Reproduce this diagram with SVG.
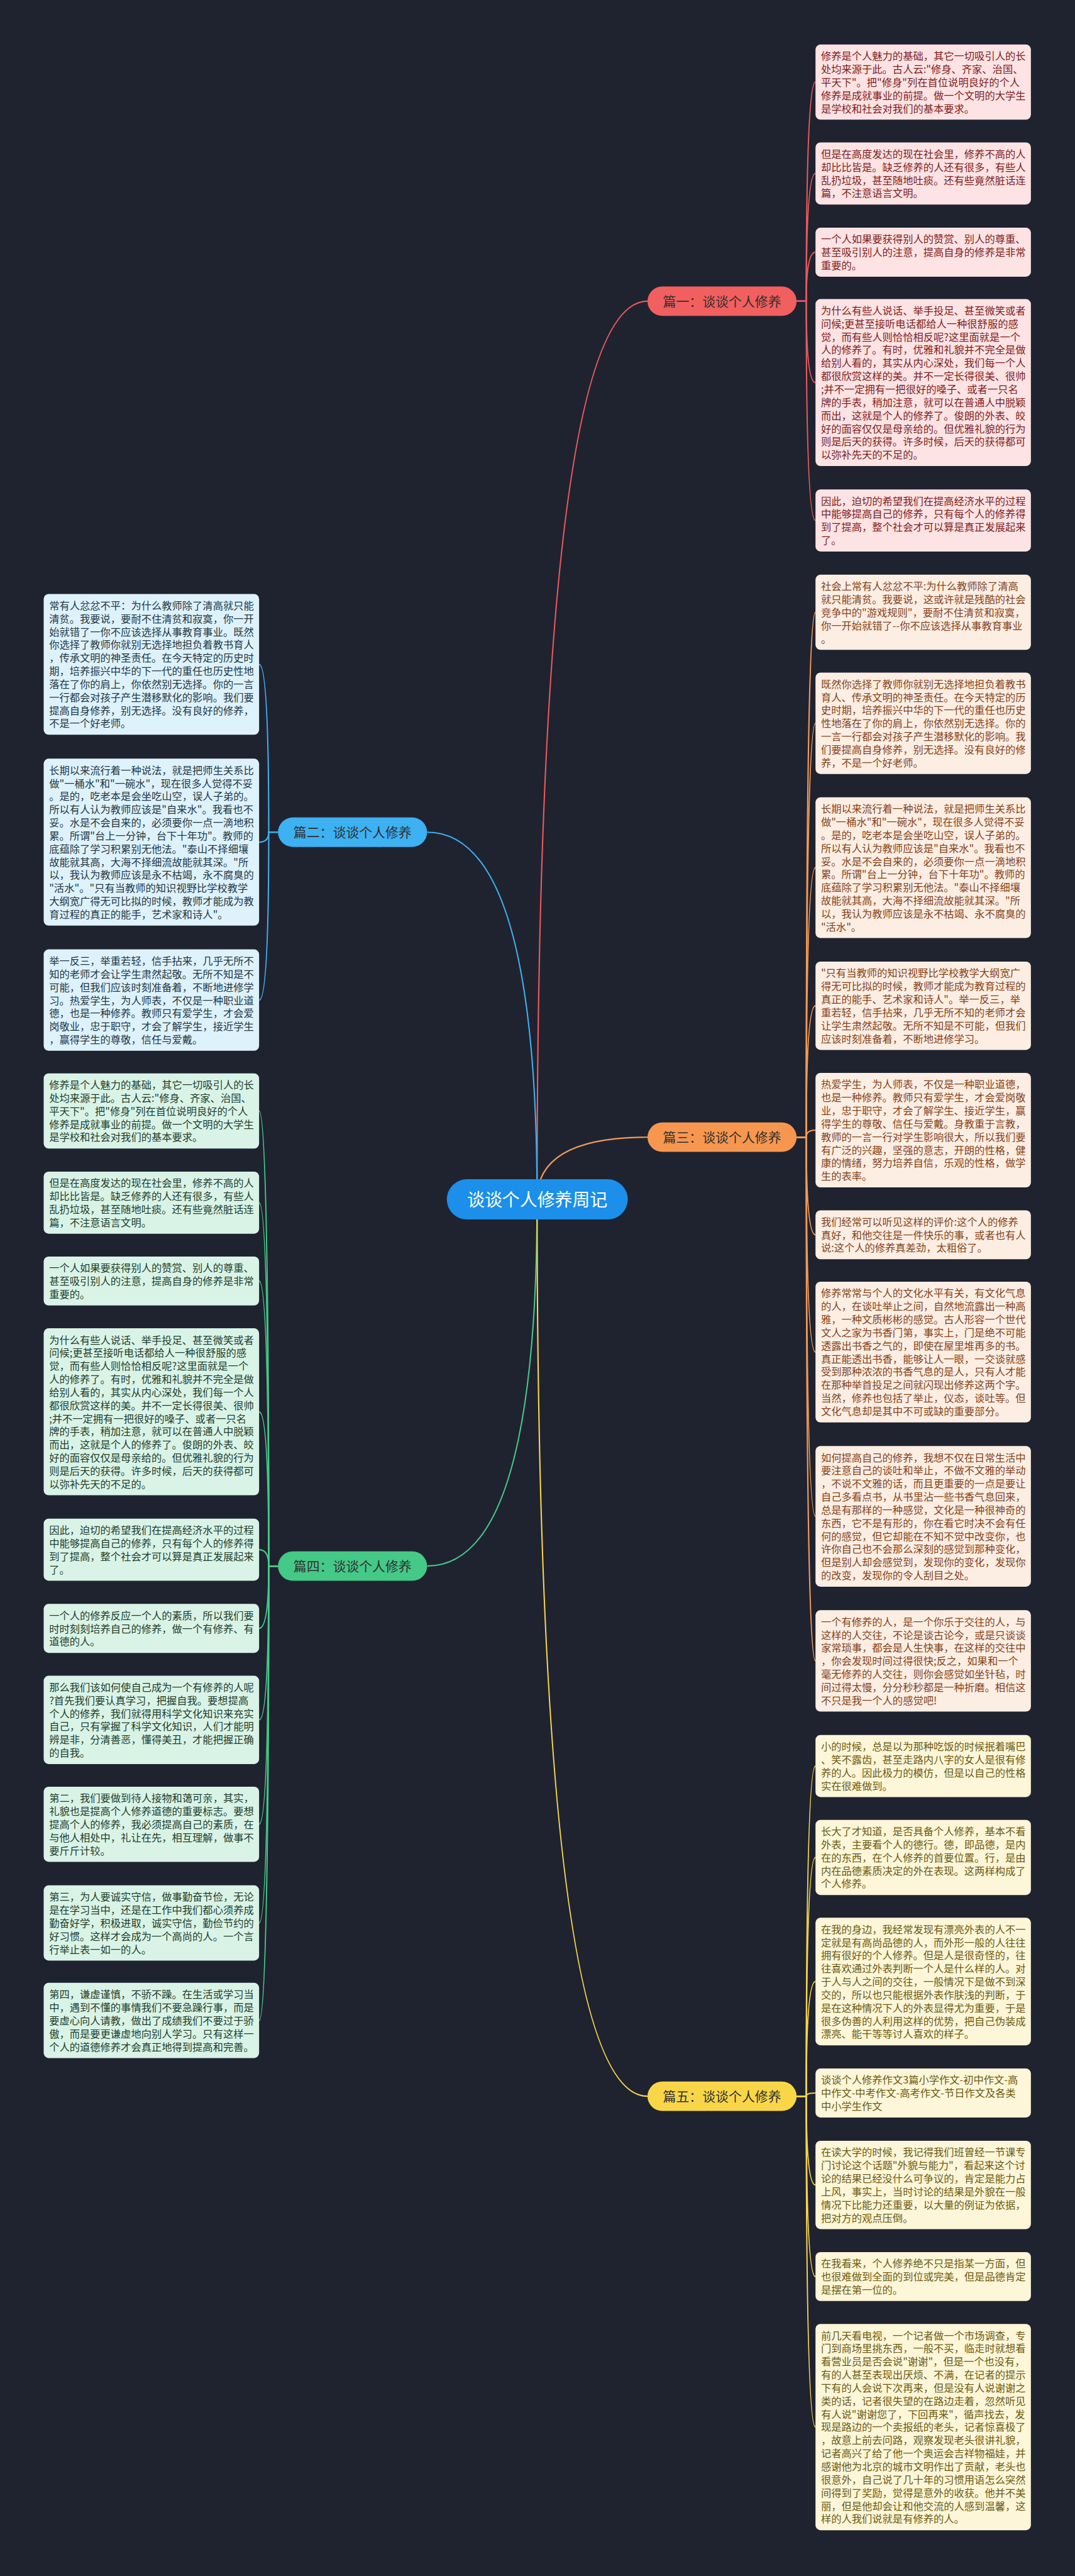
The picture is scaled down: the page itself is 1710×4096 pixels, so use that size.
<svg xmlns="http://www.w3.org/2000/svg" width="1710" height="4096" viewBox="0 0 1710 4096">
<style>
text{font-family:"Noto Sans CJK SC","Noto Sans",sans-serif}
.lf text{font-size:24.4px}
.red rect{fill:#fde3e3}.red text{fill:#7e1d1d}
.org rect{fill:#fdeee3}.org text{fill:#84421a}
.yel rect{fill:#fdf6d8}.yel text{fill:#6c5a12}
.blu rect{fill:#def2fc}.blu text{fill:#223846}
.grn rect{fill:#d9f4e7}.grn text{fill:#1f3d2d}
.br text{font-size:31.3px;fill:#2f2f2f;text-anchor:middle}
#connectors path{fill:none;stroke-width:3.2}
.cr{stroke:#ea5a5c}.cb{stroke:#3db1f1}.co{stroke:#f59a55}.cg{stroke:#44c987}.cy{stroke:#f8d64a}
</style>
<rect width="1710" height="4096" fill="#1f2330"/>
<g transform="scale(0.66797)">
<g id="connectors">
<path class="cr" d="M1279,2855 Q1279,717 1542,717"/>
<path class="cb" d="M1279,2855 Q1279,1981 1017,1981"/>
<path class="co" d="M1279,2855 Q1279,2707 1542,2707"/>
<path class="cg" d="M1279,2855 Q1279,3728 1017,3728"/>
<path class="cy" d="M1279,2855 Q1279,4990 1542,4990"/>
<path class="cr" d="M1897,717 L1920,717 Q1920,195.5 1942,195.5"/>
<path class="cr" d="M1897,717 L1920,717 Q1920,412.9 1942,412.9"/>
<path class="cr" d="M1897,717 L1920,717 Q1920,600.3 1942,600.3"/>
<path class="cr" d="M1897,717 L1920,717 Q1920,910.7 1942,910.7"/>
<path class="cr" d="M1897,717 L1920,717 Q1920,1238.9 1942,1238.9"/>
<path class="co" d="M1897,2707 L1920,2707 Q1920,1457.5 1942,1457.5"/>
<path class="co" d="M1897,2707 L1920,2707 Q1920,1721.7 1942,1721.7"/>
<path class="co" d="M1897,2707 L1920,2707 Q1920,2065.5 1942,2065.5"/>
<path class="co" d="M1897,2707 L1920,2707 Q1920,2394.1 1942,2394.1"/>
<path class="co" d="M1897,2707 L1920,2707 Q1920,2690.3 1942,2690.3"/>
<path class="co" d="M1897,2707 L1920,2707 Q1920,2939.3 1942,2939.3"/>
<path class="co" d="M1897,2707 L1920,2707 Q1920,3218.5 1942,3218.5"/>
<path class="co" d="M1897,2707 L1920,2707 Q1920,3609.5 1942,3609.5"/>
<path class="co" d="M1897,2707 L1920,2707 Q1920,3953.7 1942,3953.7"/>
<path class="cy" d="M1897,4990 L1920,4990 Q1920,4203.9 1942,4203.9"/>
<path class="cy" d="M1897,4990 L1920,4990 Q1920,4421.5 1942,4421.5"/>
<path class="cy" d="M1897,4990 L1920,4990 Q1920,4716.9 1942,4716.9"/>
<path class="cy" d="M1897,4990 L1920,4990 Q1920,4982.3 1942,4982.3"/>
<path class="cy" d="M1897,4990 L1920,4990 Q1920,5201.1 1942,5201.1"/>
<path class="cy" d="M1897,4990 L1920,4990 Q1920,5419.3 1942,5419.3"/>
<path class="cy" d="M1897,4990 L1920,4990 Q1920,5777.5 1942,5777.5"/>
<path class="cb" d="M662,1981 L640,1981 Q640,1581.5 617,1581.5"/>
<path class="cb" d="M662,1981 L640,1981 Q640,2004.7 617,2004.7"/>
<path class="cb" d="M662,1981 L640,1981 Q640,2380.7 617,2380.7"/>
<path class="cg" d="M662,3728 L640,3728 Q640,2644.5 617,2644.5"/>
<path class="cg" d="M662,3728 L640,3728 Q640,2862.9 617,2862.9"/>
<path class="cg" d="M662,3728 L640,3728 Q640,3049.3 617,3049.3"/>
<path class="cg" d="M662,3728 L640,3728 Q640,3360.7 617,3360.7"/>
<path class="cg" d="M662,3728 L640,3728 Q640,3688.9 617,3688.9"/>
<path class="cg" d="M662,3728 L640,3728 Q640,3876.3 617,3876.3"/>
<path class="cg" d="M662,3728 L640,3728 Q640,4094.1 617,4094.1"/>
<path class="cg" d="M662,3728 L640,3728 Q640,4342.5 617,4342.5"/>
<path class="cg" d="M662,3728 L640,3728 Q640,4577.5 617,4577.5"/>
<path class="cg" d="M662,3728 L640,3728 Q640,4809.5 617,4809.5"/>
</g>

<g id="center"><rect x="1064" y="2807" width="431" height="96" rx="48" fill="#1b8fe9"/><text x="1279.5" y="2871" font-size="41.8" fill="#ffffff" text-anchor="middle">谈谈个人修养周记</text></g>

<g id="b1" class="br"><rect x="1542" y="682" width="355" height="70" rx="35" fill="#f25f5f"/><text x="1719.5" y="729">篇一：谈谈个人修养</text></g>
<g id="b2" class="br"><rect x="662" y="1946" width="355" height="70" rx="35" fill="#3db1f1"/><text x="839.5" y="1993">篇二：谈谈个人修养</text></g>
<g id="b3" class="br"><rect x="1542" y="2672" width="355" height="70" rx="35" fill="#f7974f"/><text x="1719.5" y="2719">篇三：谈谈个人修养</text></g>
<g id="b4" class="br"><rect x="662" y="3693" width="355" height="70" rx="35" fill="#44c987"/><text x="839.5" y="3740">篇四：谈谈个人修养</text></g>
<g id="b5" class="br"><rect x="1542" y="4955" width="355" height="70" rx="35" fill="#f9d648"/><text x="1719.5" y="5002">篇五：谈谈个人修养</text></g>

<g id="r1" class="lf red"><rect x="1942" y="106" width="513" height="179" rx="12"/><text x="1955" y="142.5">修养是个人魅力的基础，其它一切吸引人的长<tspan x="1955" dy="31.2">处均来源于此。古人云:"修身、齐家、治国、</tspan><tspan x="1955" dy="31.2">平天下"。把"修身"列在首位说明良好的个人</tspan><tspan x="1955" dy="31.2">修养是成就事业的前提。做一个文明的大学生</tspan><tspan x="1955" dy="31.2">是学校和社会对我们的基本要求。</tspan></text></g>
<g id="r2" class="lf red"><rect x="1942" y="339" width="513" height="147.8" rx="12"/><text x="1955" y="375.5">但是在高度发达的现在社会里，修养不高的人<tspan x="1955" dy="31.2">却比比皆是。缺乏修养的人还有很多，有些人</tspan><tspan x="1955" dy="31.2">乱扔垃圾，甚至随地吐痰。还有些竟然脏话连</tspan><tspan x="1955" dy="31.2">篇，不注意语言文明。</tspan></text></g>
<g id="r3" class="lf red"><rect x="1942" y="542" width="513" height="116.6" rx="12"/><text x="1955" y="578.5">一个人如果要获得别人的赞赏、别人的尊重、<tspan x="1955" dy="31.2">甚至吸引别人的注意，提高自身的修养是非常</tspan><tspan x="1955" dy="31.2">重要的。</tspan></text></g>
<g id="r4" class="lf red"><rect x="1942" y="712" width="513" height="397.4" rx="12"/><text x="1955" y="748.5">为什么有些人说话、举手投足、甚至微笑或者<tspan x="1955" dy="31.2">问候;更甚至接听电话都给人一种很舒服的感</tspan><tspan x="1955" dy="31.2">觉，而有些人则恰恰相反呢?这里面就是一个</tspan><tspan x="1955" dy="31.2">人的修养了。有时，优雅和礼貌并不完全是做</tspan><tspan x="1955" dy="31.2">给别人看的，其实从内心深处，我们每一个人</tspan><tspan x="1955" dy="31.2">都很欣赏这样的美。并不一定长得很美、很帅</tspan><tspan x="1955" dy="31.2">;并不一定拥有一把很好的嗓子、或者一只名</tspan><tspan x="1955" dy="31.2">牌的手表，稍加注意，就可以在普通人中脱颖</tspan><tspan x="1955" dy="31.2">而出，这就是个人的修养了。俊朗的外表、皎</tspan><tspan x="1955" dy="31.2">好的面容仅仅是母亲给的。但优雅礼貌的行为</tspan><tspan x="1955" dy="31.2">则是后天的获得。许多时候，后天的获得都可</tspan><tspan x="1955" dy="31.2">以弥补先天的不足的。</tspan></text></g>
<g id="r5" class="lf red"><rect x="1942" y="1165" width="513" height="147.8" rx="12"/><text x="1955" y="1201.5">因此，迫切的希望我们在提高经济水平的过程<tspan x="1955" dy="31.2">中能够提高自己的修养，只有每个人的修养得</tspan><tspan x="1955" dy="31.2">到了提高，整个社会才可以算是真正发展起来</tspan><tspan x="1955" dy="31.2">了。</tspan></text></g>

<g id="r6" class="lf org"><rect x="1942" y="1368" width="513" height="179" rx="12"/><text x="1955" y="1404.5">社会上常有人忿忿不平:为什么教师除了清高<tspan x="1955" dy="31.2">就只能清贫。我要说，这或许就是残酷的社会</tspan><tspan x="1955" dy="31.2">竞争中的"游戏规则"，要耐不住清贫和寂寞，</tspan><tspan x="1955" dy="31.2">你一开始就错了--你不应该选择从事教育事业</tspan><tspan x="1955" dy="31.2">。</tspan></text></g>
<g id="r7" class="lf org"><rect x="1942" y="1601" width="513" height="241.4" rx="12"/><text x="1955" y="1637.5">既然你选择了教师你就别无选择地担负着教书<tspan x="1955" dy="31.2">育人、传承文明的神圣责任。在今天特定的历</tspan><tspan x="1955" dy="31.2">史时期，培养振兴中华的下一代的重任也历史</tspan><tspan x="1955" dy="31.2">性地落在了你的肩上，你依然别无选择。你的</tspan><tspan x="1955" dy="31.2">一言一行都会对孩子产生潜移默化的影响。我</tspan><tspan x="1955" dy="31.2">们要提高自身修养，别无选择。没有良好的修</tspan><tspan x="1955" dy="31.2">养，不是一个好老师。</tspan></text></g>
<g id="r8" class="lf org"><rect x="1942" y="1898" width="513" height="335" rx="12"/><text x="1955" y="1934.5">长期以来流行着一种说法，就是把师生关系比<tspan x="1955" dy="31.2">做"一桶水"和"一碗水"，现在很多人觉得不妥</tspan><tspan x="1955" dy="31.2">。是的，吃老本是会坐吃山空，误人子弟的。</tspan><tspan x="1955" dy="31.2">所以有人认为教师应该是"自来水"。我看也不</tspan><tspan x="1955" dy="31.2">妥。水是不会自来的，必须要你一点一滴地积</tspan><tspan x="1955" dy="31.2">累。所谓"台上一分钟，台下十年功"。教师的</tspan><tspan x="1955" dy="31.2">底蕴除了学习积累别无他法。"泰山不择细壤</tspan><tspan x="1955" dy="31.2">故能就其高，大海不择细流故能就其深。"所</tspan><tspan x="1955" dy="31.2">以，我认为教师应该是永不枯竭、永不腐臭的</tspan><tspan x="1955" dy="31.2">"活水"。</tspan></text></g>
<g id="r9" class="lf org"><rect x="1942" y="2289" width="513" height="210.2" rx="12"/><text x="1955" y="2325.5">"只有当教师的知识视野比学校教学大纲宽广<tspan x="1955" dy="31.2">得无可比拟的时候，教师才能成为教育过程的</tspan><tspan x="1955" dy="31.2">真正的能手、艺术家和诗人"。举一反三，举</tspan><tspan x="1955" dy="31.2">重若轻，信手拈来，几乎无所不知的老师才会</tspan><tspan x="1955" dy="31.2">让学生肃然起敬。无所不知是不可能，但我们</tspan><tspan x="1955" dy="31.2">应该时刻准备着，不断地进修学习。</tspan></text></g>
<g id="r10" class="lf org"><rect x="1942" y="2554" width="513" height="272.6" rx="12"/><text x="1955" y="2590.5">热爱学生，为人师表，不仅是一种职业道德，<tspan x="1955" dy="31.2">也是一种修养。教师只有爱学生，才会爱岗敬</tspan><tspan x="1955" dy="31.2">业，忠于职守，才会了解学生、接近学生，赢</tspan><tspan x="1955" dy="31.2">得学生的尊敬、信任与爱戴。身教重于言教，</tspan><tspan x="1955" dy="31.2">教师的一言一行对学生影响很大，所以我们要</tspan><tspan x="1955" dy="31.2">有广泛的兴趣，坚强的意志，开朗的性格，健</tspan><tspan x="1955" dy="31.2">康的情绪，努力培养自信，乐观的性格，做学</tspan><tspan x="1955" dy="31.2">生的表率。</tspan></text></g>
<g id="r11" class="lf org"><rect x="1942" y="2881" width="513" height="116.6" rx="12"/><text x="1955" y="2917.5">我们经常可以听见这样的评价:这个人的修养<tspan x="1955" dy="31.2">真好，和他交往是一件快乐的事，或者也有人</tspan><tspan x="1955" dy="31.2">说:这个人的修养真差劲，太粗俗了。</tspan></text></g>
<g id="r12" class="lf org"><rect x="1942" y="3051" width="513" height="335" rx="12"/><text x="1955" y="3087.5">修养常常与个人的文化水平有关，有文化气息<tspan x="1955" dy="31.2">的人，在谈吐举止之间，自然地流露出一种高</tspan><tspan x="1955" dy="31.2">雅，一种文质彬彬的感觉。古人形容一个世代</tspan><tspan x="1955" dy="31.2">文人之家为书香门第，事实上，门是绝不可能</tspan><tspan x="1955" dy="31.2">透露出书香之气的，即使在屋里堆再多的书。</tspan><tspan x="1955" dy="31.2">真正能透出书香，能够让人一眼，一交谈就感</tspan><tspan x="1955" dy="31.2">受到那种浓浓的书香气息的是人，只有人才能</tspan><tspan x="1955" dy="31.2">在那种举首投足之间就闪现出修养这两个字。</tspan><tspan x="1955" dy="31.2">当然，修养也包括了举止，仪态，谈吐等。但</tspan><tspan x="1955" dy="31.2">文化气息却是其中不可或缺的重要部分。</tspan></text></g>
<g id="r13" class="lf org"><rect x="1942" y="3442" width="513" height="335" rx="12"/><text x="1955" y="3478.5">如何提高自己的修养，我想不仅在日常生活中<tspan x="1955" dy="31.2">要注意自己的谈吐和举止，不做不文雅的举动</tspan><tspan x="1955" dy="31.2">，不说不文雅的话，而且更重要的一点是要让</tspan><tspan x="1955" dy="31.2">自己多看点书，从书里沾一些书香气息回来，</tspan><tspan x="1955" dy="31.2">总是有那样的一种感觉，文化是一种很神奇的</tspan><tspan x="1955" dy="31.2">东西，它不是有形的，你在看它时决不会有任</tspan><tspan x="1955" dy="31.2">何的感觉，但它却能在不知不觉中改变你，也</tspan><tspan x="1955" dy="31.2">许你自己也不会那么深刻的感觉到那种变化，</tspan><tspan x="1955" dy="31.2">但是别人却会感觉到，发现你的变化，发现你</tspan><tspan x="1955" dy="31.2">的改变，发现你的令人刮目之处。</tspan></text></g>
<g id="r14" class="lf org"><rect x="1942" y="3833" width="513" height="241.4" rx="12"/><text x="1955" y="3869.5">一个有修养的人，是一个你乐于交往的人，与<tspan x="1955" dy="31.2">这样的人交往，不论是谈古论今，或是只谈谈</tspan><tspan x="1955" dy="31.2">家常琐事，都会是人生快事，在这样的交往中</tspan><tspan x="1955" dy="31.2">，你会发现时间过得很快;反之，如果和一个</tspan><tspan x="1955" dy="31.2">毫无修养的人交往，则你会感觉如坐针毡，时</tspan><tspan x="1955" dy="31.2">间过得太慢，分分秒秒都是一种折磨。相信这</tspan><tspan x="1955" dy="31.2">不只是我一个人的感觉吧!</tspan></text></g>

<g id="r15" class="lf yel"><rect x="1942" y="4130" width="513" height="147.8" rx="12"/><text x="1955" y="4166.5">小的时候，总是以为那种吃饭的时候抿着嘴巴<tspan x="1955" dy="31.2">、笑不露齿，甚至走路内八字的女人是很有修</tspan><tspan x="1955" dy="31.2">养的人。因此极力的模仿，但是以自己的性格</tspan><tspan x="1955" dy="31.2">实在很难做到。</tspan></text></g>
<g id="r16" class="lf yel"><rect x="1942" y="4332" width="513" height="179" rx="12"/><text x="1955" y="4368.5">长大了才知道，是否具备个人修养，基本不看<tspan x="1955" dy="31.2">外表，主要看个人的德行。德，即品德，是内</tspan><tspan x="1955" dy="31.2">在的东西，在个人修养的首要位置。行，是由</tspan><tspan x="1955" dy="31.2">内在品德素质决定的外在表现。这两样构成了</tspan><tspan x="1955" dy="31.2">个人修养。</tspan></text></g>
<g id="r17" class="lf yel"><rect x="1942" y="4565" width="513" height="303.8" rx="12"/><text x="1955" y="4601.5">在我的身边，我经常发现有漂亮外表的人不一<tspan x="1955" dy="31.2">定就是有高尚品德的人，而外形一般的人往往</tspan><tspan x="1955" dy="31.2">拥有很好的个人修养。但是人是很奇怪的，往</tspan><tspan x="1955" dy="31.2">往喜欢通过外表判断一个人是什么样的人。对</tspan><tspan x="1955" dy="31.2">于人与人之间的交往，一般情况下是做不到深</tspan><tspan x="1955" dy="31.2">交的，所以也只能根据外表作肤浅的判断，于</tspan><tspan x="1955" dy="31.2">是在这种情况下人的外表显得尤为重要，于是</tspan><tspan x="1955" dy="31.2">很多伪善的人利用这样的优势，把自己伪装成</tspan><tspan x="1955" dy="31.2">漂亮、能干等等讨人喜欢的样子。</tspan></text></g>
<g id="r18" class="lf yel"><rect x="1942" y="4924" width="513" height="116.6" rx="12"/><text x="1955" y="4960.5">谈谈个人修养作文3篇小学作文-初中作文-高<tspan x="1955" dy="31.2">中作文-中考作文-高考作文-节日作文及各类</tspan><tspan x="1955" dy="31.2">中小学生作文</tspan></text></g>
<g id="r19" class="lf yel"><rect x="1942" y="5096" width="513" height="210.2" rx="12"/><text x="1955" y="5132.5">在读大学的时候，我记得我们班曾经一节课专<tspan x="1955" dy="31.2">门讨论这个话题"外貌与能力"，看起来这个讨</tspan><tspan x="1955" dy="31.2">论的结果已经没什么可争议的，肯定是能力占</tspan><tspan x="1955" dy="31.2">上风，事实上，当时讨论的结果是外貌在一般</tspan><tspan x="1955" dy="31.2">情况下比能力还重要，以大量的例证为依据，</tspan><tspan x="1955" dy="31.2">把对方的观点压倒。</tspan></text></g>
<g id="r20" class="lf yel"><rect x="1942" y="5361" width="513" height="116.6" rx="12"/><text x="1955" y="5397.5">在我看来，个人修养绝不只是指某一方面，但<tspan x="1955" dy="31.2">也很难做到全面的到位或完美，但是品德肯定</tspan><tspan x="1955" dy="31.2">是摆在第一位的。</tspan></text></g>
<g id="r21" class="lf yel"><rect x="1942" y="5532" width="513" height="491" rx="12"/><text x="1955" y="5568.5">前几天看电视，一个记者做一个市场调查，专<tspan x="1955" dy="31.2">门到商场里挑东西，一般不买，临走时就想看</tspan><tspan x="1955" dy="31.2">看营业员是否会说"谢谢"，但是一个也没有，</tspan><tspan x="1955" dy="31.2">有的人甚至表现出厌烦、不满，在记者的提示</tspan><tspan x="1955" dy="31.2">下有的人会说下次再来，但是没有人说谢谢之</tspan><tspan x="1955" dy="31.2">类的话，记者很失望的在路边走着，忽然听见</tspan><tspan x="1955" dy="31.2">有人说"谢谢您了，下回再来"，循声找去，发</tspan><tspan x="1955" dy="31.2">现是路边的一个卖报纸的老头，记者惊喜极了</tspan><tspan x="1955" dy="31.2">，故意上前去问路，观察发现老头很讲礼貌，</tspan><tspan x="1955" dy="31.2">记者高兴了给了他一个奥运会吉祥物福娃，并</tspan><tspan x="1955" dy="31.2">感谢他为北京的城市文明作出了贡献，老头也</tspan><tspan x="1955" dy="31.2">很意外，自己说了几十年的习惯用语怎么突然</tspan><tspan x="1955" dy="31.2">间得到了奖励，觉得是意外的收获。他并不美</tspan><tspan x="1955" dy="31.2">丽，但是他却会让和他交流的人感到温馨，这</tspan><tspan x="1955" dy="31.2">样的人我们说就是有修养的人。</tspan></text></g>

<g id="l1" class="lf blu"><rect x="104" y="1414" width="513" height="335" rx="12"/><text x="117" y="1450.5">常有人忿忿不平：为什么教师除了清高就只能<tspan x="117" dy="31.2">清贫。我要说，要耐不住清贫和寂寞，你一开</tspan><tspan x="117" dy="31.2">始就错了一你不应该选择从事教育事业。既然</tspan><tspan x="117" dy="31.2">你选择了教师你就别无选择地担负着教书育人</tspan><tspan x="117" dy="31.2">，传承文明的神圣责任。在今天特定的历史时</tspan><tspan x="117" dy="31.2">期，培养振兴中华的下一代的重任也历史性地</tspan><tspan x="117" dy="31.2">落在了你的肩上，你依然别无选择。你的一言</tspan><tspan x="117" dy="31.2">一行都会对孩子产生潜移默化的影响。我们要</tspan><tspan x="117" dy="31.2">提高自身修养，别无选择。没有良好的修养，</tspan><tspan x="117" dy="31.2">不是一个好老师。</tspan></text></g>
<g id="l2" class="lf blu"><rect x="104" y="1806" width="513" height="397.4" rx="12"/><text x="117" y="1842.5">长期以来流行着一种说法，就是把师生关系比<tspan x="117" dy="31.2">做"一桶水"和"一碗水"，现在很多人觉得不妥</tspan><tspan x="117" dy="31.2">。是的，吃老本是会坐吃山空，误人子弟的。</tspan><tspan x="117" dy="31.2">所以有人认为教师应该是"自来水"。我看也不</tspan><tspan x="117" dy="31.2">妥。水是不会自来的，必须要你一点一滴地积</tspan><tspan x="117" dy="31.2">累。所谓"台上一分钟，台下十年功"。教师的</tspan><tspan x="117" dy="31.2">底蕴除了学习积累别无他法。"泰山不择细壤</tspan><tspan x="117" dy="31.2">故能就其高，大海不择细流故能就其深。"所</tspan><tspan x="117" dy="31.2">以，我认为教师应该是永不枯竭，永不腐臭的</tspan><tspan x="117" dy="31.2">"活水"。"只有当教师的知识视野比学校教学</tspan><tspan x="117" dy="31.2">大纲宽广得无可比拟的时候，教师才能成为教</tspan><tspan x="117" dy="31.2">育过程的真正的能手，艺术家和诗人"。</tspan></text></g>
<g id="l3" class="lf blu"><rect x="104" y="2260" width="513" height="241.4" rx="12"/><text x="117" y="2296.5">举一反三，举重若轻，信手拈来，几乎无所不<tspan x="117" dy="31.2">知的老师才会让学生肃然起敬。无所不知是不</tspan><tspan x="117" dy="31.2">可能，但我们应该时刻准备着，不断地进修学</tspan><tspan x="117" dy="31.2">习。热爱学生，为人师表，不仅是一种职业道</tspan><tspan x="117" dy="31.2">德，也是一种修养。教师只有爱学生，才会爱</tspan><tspan x="117" dy="31.2">岗敬业，忠于职守，才会了解学生，接近学生</tspan><tspan x="117" dy="31.2">，赢得学生的尊敬，信任与爱戴。</tspan></text></g>

<g id="l4" class="lf grn"><rect x="104" y="2555" width="513" height="179" rx="12"/><text x="117" y="2591.5">修养是个人魅力的基础，其它一切吸引人的长<tspan x="117" dy="31.2">处均来源于此。古人云:"修身、齐家、治国、</tspan><tspan x="117" dy="31.2">平天下"。把"修身"列在首位说明良好的个人</tspan><tspan x="117" dy="31.2">修养是成就事业的前提。做一个文明的大学生</tspan><tspan x="117" dy="31.2">是学校和社会对我们的基本要求。</tspan></text></g>
<g id="l5" class="lf grn"><rect x="104" y="2789" width="513" height="147.8" rx="12"/><text x="117" y="2825.5">但是在高度发达的现在社会里，修养不高的人<tspan x="117" dy="31.2">却比比皆是。缺乏修养的人还有很多，有些人</tspan><tspan x="117" dy="31.2">乱扔垃圾，甚至随地吐痰。还有些竟然脏话连</tspan><tspan x="117" dy="31.2">篇，不注意语言文明。</tspan></text></g>
<g id="l6" class="lf grn"><rect x="104" y="2991" width="513" height="116.6" rx="12"/><text x="117" y="3027.5">一个人如果要获得别人的赞赏、别人的尊重、<tspan x="117" dy="31.2">甚至吸引别人的注意，提高自身的修养是非常</tspan><tspan x="117" dy="31.2">重要的。</tspan></text></g>
<g id="l7" class="lf grn"><rect x="104" y="3162" width="513" height="397.4" rx="12"/><text x="117" y="3198.5">为什么有些人说话、举手投足、甚至微笑或者<tspan x="117" dy="31.2">问候;更甚至接听电话都给人一种很舒服的感</tspan><tspan x="117" dy="31.2">觉，而有些人则恰恰相反呢?这里面就是一个</tspan><tspan x="117" dy="31.2">人的修养了。有时，优雅和礼貌并不完全是做</tspan><tspan x="117" dy="31.2">给别人看的，其实从内心深处，我们每一个人</tspan><tspan x="117" dy="31.2">都很欣赏这样的美。并不一定长得很美、很帅</tspan><tspan x="117" dy="31.2">;并不一定拥有一把很好的嗓子、或者一只名</tspan><tspan x="117" dy="31.2">牌的手表，稍加注意，就可以在普通人中脱颖</tspan><tspan x="117" dy="31.2">而出，这就是个人的修养了。俊朗的外表、皎</tspan><tspan x="117" dy="31.2">好的面容仅仅是母亲给的。但优雅礼貌的行为</tspan><tspan x="117" dy="31.2">则是后天的获得。许多时候，后天的获得都可</tspan><tspan x="117" dy="31.2">以弥补先天的不足的。</tspan></text></g>
<g id="l8" class="lf grn"><rect x="104" y="3615" width="513" height="147.8" rx="12"/><text x="117" y="3651.5">因此，迫切的希望我们在提高经济水平的过程<tspan x="117" dy="31.2">中能够提高自己的修养，只有每个人的修养得</tspan><tspan x="117" dy="31.2">到了提高，整个社会才可以算是真正发展起来</tspan><tspan x="117" dy="31.2">了。</tspan></text></g>
<g id="l9" class="lf grn"><rect x="104" y="3818" width="513" height="116.6" rx="12"/><text x="117" y="3854.5">一个人的修养反应一个人的素质，所以我们要<tspan x="117" dy="31.2">时时刻刻培养自己的修养，做一个有修养、有</tspan><tspan x="117" dy="31.2">道德的人。</tspan></text></g>
<g id="l10" class="lf grn"><rect x="104" y="3989" width="513" height="210.2" rx="12"/><text x="117" y="4025.5">那么我们该如何使自己成为一个有修养的人呢<tspan x="117" dy="31.2">?首先我们要认真学习，把握自我。要想提高</tspan><tspan x="117" dy="31.2">个人的修养，我们就得用科学文化知识来充实</tspan><tspan x="117" dy="31.2">自己，只有掌握了科学文化知识，人们才能明</tspan><tspan x="117" dy="31.2">辨是非，分清善恶，懂得美丑，才能把握正确</tspan><tspan x="117" dy="31.2">的自我。</tspan></text></g>
<g id="l11" class="lf grn"><rect x="104" y="4253" width="513" height="179" rx="12"/><text x="117" y="4289.5">第二，我们要做到待人接物和蔼可亲，其实，<tspan x="117" dy="31.2">礼貌也是提高个人修养道德的重要标志。要想</tspan><tspan x="117" dy="31.2">提高个人的修养，我必须提高自己的素质，在</tspan><tspan x="117" dy="31.2">与他人相处中，礼让在先，相互理解，做事不</tspan><tspan x="117" dy="31.2">要斤斤计较。</tspan></text></g>
<g id="l12" class="lf grn"><rect x="104" y="4488" width="513" height="179" rx="12"/><text x="117" y="4524.5">第三，为人要诚实守信，做事勤奋节俭，无论<tspan x="117" dy="31.2">是在学习当中，还是在工作中我们都心须养成</tspan><tspan x="117" dy="31.2">勤奋好学，积极进取，诚实守信，勤俭节约的</tspan><tspan x="117" dy="31.2">好习惯。这样才会成为一个高尚的人。一个言</tspan><tspan x="117" dy="31.2">行举止表一如一的人。</tspan></text></g>
<g id="l13" class="lf grn"><rect x="104" y="4720" width="513" height="179" rx="12"/><text x="117" y="4756.5">第四，谦虚谨慎，不骄不躁。在生活或学习当<tspan x="117" dy="31.2">中，遇到不懂的事情我们不要急躁行事，而是</tspan><tspan x="117" dy="31.2">要虚心向人请教，做出了成绩我们不要过于骄</tspan><tspan x="117" dy="31.2">傲，而是要更谦虚地向别人学习。只有这样一</tspan><tspan x="117" dy="31.2">个人的道德修养才会真正地得到提高和完善。</tspan></text></g>
</g>
</svg>
